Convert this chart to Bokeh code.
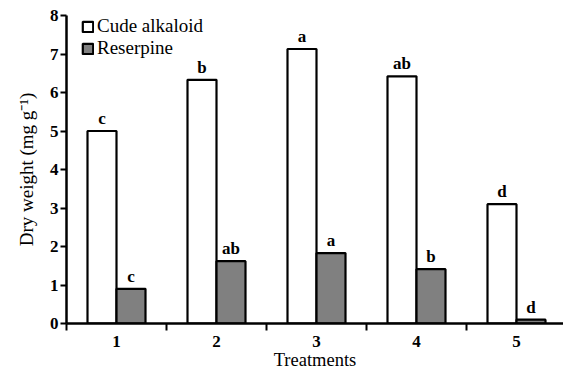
from bokeh.plotting import figure
from bokeh.models import FixedTicker, Legend, LegendItem, ColumnDataSource, Range1d
from bokeh.core.properties import value
from bokeh.embed import file_html
from bokeh.resources import INLINE

treatments = [1, 2, 3, 4, 5]
crude = [5.0, 6.33, 7.13, 6.42, 3.1]
reserpine = [0.9, 1.62, 1.83, 1.41, 0.1]
crude_letters = ["c", "b", "a", "ab", "d"]
res_letters = ["c", "ab", "a", "b", "d"]
y_ticks = [0, 1, 2, 3, 4, 5, 6, 7, 8]

FONT = "Liberation Serif"
bw = 0.29
off = 0.145

p = figure(width=563, height=372, output_backend="svg", toolbar_location=None,
           x_range=Range1d(0.5, 5.47), y_range=Range1d(0, 8),
           min_border_left=66, min_border_right=0, min_border_top=15, min_border_bottom=0)
p.outline_line_color = None
p.grid.visible = False
p.background_fill_color = None
p.border_fill_color = "white"

cx = [t - off for t in treatments]
rx = [t + off for t in treatments]
src_c = ColumnDataSource(dict(x=cx, top=crude, lab=crude_letters))
src_r = ColumnDataSource(dict(x=rx, top=reserpine, lab=res_letters))

r1 = p.vbar(x="x", top="top", width=bw, bottom=0, source=src_c,
            fill_color="white", line_color="black", line_width=2.2)
r2 = p.vbar(x="x", top="top", width=bw, bottom=0, source=src_r,
            fill_color="#808080", line_color="black", line_width=2.2)

for s in (src_c, src_r):
    p.text(x="x", y="top", text="lab", source=s, text_align="center",
           text_baseline="bottom", y_offset=-3, text_font=value(FONT),
           text_font_size="17px", text_font_style="bold", text_color="black")

legend = Legend(items=[LegendItem(label="Cude alkaloid", renderers=[r1]),
                       LegendItem(label="Reserpine", renderers=[r2])],
                location=(15, 264), border_line_color=None, background_fill_alpha=0,
                glyph_width=13, glyph_height=13, label_standoff=3,
                spacing=0, padding=0, margin=0, label_height=16)
legend.label_text_font = "'Liberation Serif', 'Times New Roman', serif"
legend.label_text_font_size = "19px"
legend.label_text_font_style = "normal"
legend.label_text_color = "black"
p.add_layout(legend)

# Axes
p.xaxis.ticker = FixedTicker(ticks=treatments, minor_ticks=[0.5, 1.5, 2.5, 3.5, 4.5, 5.5])
p.xaxis.major_tick_line_color = None
p.xaxis.minor_tick_line_color = "black"
p.xaxis.minor_tick_line_width = 2
p.xaxis.minor_tick_out = 7
p.xaxis.minor_tick_in = 0
p.xaxis.axis_label = "Treatments"
p.xaxis.axis_label_standoff = 0

p.yaxis.ticker = FixedTicker(ticks=y_ticks)
p.yaxis.minor_tick_line_color = None
p.yaxis.major_tick_line_color = "black"
p.yaxis.major_tick_line_width = 2
p.yaxis.major_tick_out = 6
p.yaxis.major_tick_in = 0
p.yaxis.axis_label = "Dry weight (mg g\u207b\u00b9)"
p.yaxis.axis_label_standoff = 10

for ax in (p.xaxis, p.yaxis):
    ax.axis_line_color = "black"
    ax.axis_line_width = 2.5
    ax.major_label_text_font = FONT
    ax.major_label_text_font_size = "17px"
    ax.major_label_text_font_style = "bold"
    ax.major_label_text_color = "black"
    ax.axis_label_text_font = FONT
    ax.axis_label_text_font_size = "19px"
    ax.axis_label_text_font_style = "normal"
    ax.axis_label_text_color = "black"
p.xaxis.axis_label_text_font_size = "18.5px"
p.xaxis.major_label_standoff = 5
p.yaxis.major_label_standoff = 2

open("out.html", "w").write(file_html(p, INLINE))
